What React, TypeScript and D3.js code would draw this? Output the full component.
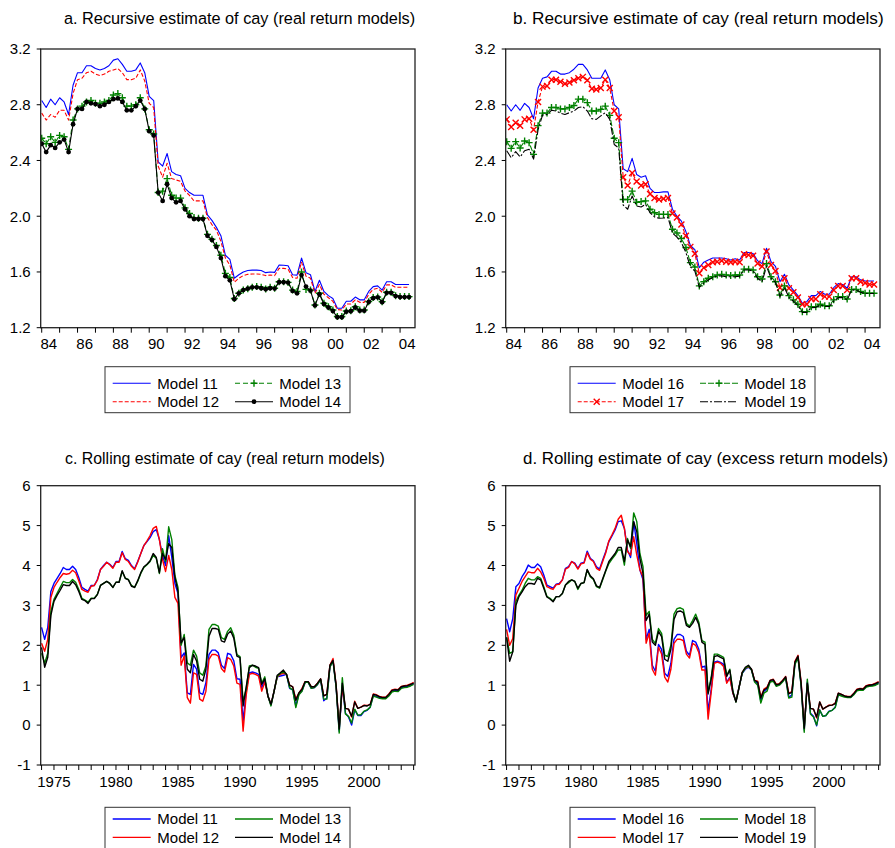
import React from 'react';
import * as d3 from 'd3';

const FONT = '"Liberation Sans", Arial, Helvetica, sans-serif';

// Quarterly samples: recursive estimates start 1984Q1, rolling estimates start 1974Q1
const RECURSIVE_START = 1984;
const ROLLING_START = 1974;

// a. Recursive estimate of cay (real return models)
const A_MODEL_11 = [2.83,2.78,2.84,2.80,2.85,2.82,2.73,2.94,3.03,3.03,3.08,3.08,3.06,3.05,3.06,3.08,3.12,3.13,3.09,3.04,3.04,3.05,3.10,3.03,2.86,2.83,2.39,2.36,2.45,2.32,2.30,2.29,2.20,2.17,2.15,2.15,2.15,2.01,1.97,1.92,1.86,1.72,1.69,
  1.555,1.58,1.60,1.61,1.613,1.613,1.61,1.595,1.60,1.597,1.65,1.648,1.645,1.58,1.577,1.70,1.595,1.58,1.46,1.54,1.46,1.43,1.41,1.34,1.34,1.39,1.39,1.42,1.40,1.40,1.46,1.495,1.50,1.47,1.53,1.53,1.51,1.51,1.51,1.51];
const A_MODEL_12 = [2.74,2.69,2.73,2.71,2.76,2.76,2.69,2.88,2.98,2.99,3.03,3.04,3.02,3.01,3.02,3.04,3.05,3.06,3.03,2.98,2.98,2.99,3.05,2.97,2.81,2.78,2.36,2.28,2.38,2.27,2.26,2.25,2.18,2.15,2.11,2.11,2.11,1.99,1.94,1.90,1.82,1.70,1.65,
  1.526,1.555,1.574,1.583,1.585,1.585,1.583,1.574,1.578,1.574,1.626,1.626,1.62,1.56,1.555,1.67,1.57,1.555,1.447,1.51,1.44,1.415,1.39,1.33,1.327,1.37,1.37,1.40,1.382,1.382,1.44,1.475,1.483,1.454,1.507,1.507,1.49,1.49,1.49,1.49];
const A_MODEL_13 = [2.56,2.52,2.57,2.53,2.58,2.57,2.48,2.69,2.77,2.79,2.82,2.83,2.81,2.81,2.82,2.83,2.87,2.88,2.85,2.79,2.79,2.80,2.85,2.77,2.62,2.59,2.17,2.18,2.27,2.15,2.13,2.13,2.06,2.02,1.99,1.985,1.985,1.87,1.835,1.79,1.72,1.59,1.56,
  1.41,1.447,1.47,1.48,1.49,1.495,1.49,1.478,1.49,1.483,1.53,1.53,1.525,1.47,1.46,1.60,1.475,1.47,1.363,1.447,1.375,1.35,1.327,1.28,1.28,1.32,1.322,1.35,1.327,1.327,1.387,1.416,1.42,1.387,1.454,1.454,1.43,1.423,1.423,1.423];
const A_MODEL_14 = [2.52,2.46,2.51,2.49,2.53,2.55,2.46,2.66,2.77,2.77,2.82,2.81,2.805,2.79,2.80,2.82,2.84,2.845,2.82,2.76,2.76,2.79,2.83,2.77,2.61,2.58,2.17,2.11,2.23,2.13,2.10,2.11,2.05,2.00,1.98,1.98,1.98,1.86,1.83,1.78,1.70,1.57,1.54,
  1.405,1.447,1.47,1.48,1.49,1.49,1.483,1.476,1.483,1.481,1.526,1.526,1.524,1.464,1.447,1.578,1.495,1.466,1.36,1.44,1.37,1.345,1.32,1.275,1.275,1.315,1.318,1.345,1.322,1.322,1.385,1.412,1.418,1.383,1.45,1.45,1.427,1.42,1.42,1.42];

// b. Recursive estimate of cay (second model group)
const B_MODEL_16 = [2.80,2.755,2.80,2.76,2.81,2.78,2.70,2.92,2.99,3.00,3.04,3.04,3.02,3.02,3.03,3.055,3.09,3.09,3.05,2.99,2.99,2.99,3.05,2.98,2.80,2.77,2.34,2.32,2.415,2.30,2.28,2.29,2.20,2.17,2.17,2.175,2.175,2.05,2.00,1.965,1.89,1.79,1.76,
  1.63,1.67,1.686,1.70,1.70,1.70,1.695,1.686,1.695,1.686,1.74,1.74,1.733,1.68,1.66,1.77,1.674,1.64,1.53,1.583,1.507,1.47,1.43,1.375,1.387,1.43,1.43,1.46,1.44,1.44,1.487,1.516,1.51,1.483,1.566,1.566,1.543,1.535,1.535,1.535];
const B_MODEL_17 = [2.695,2.64,2.67,2.65,2.695,2.70,2.62,2.82,2.93,2.935,2.98,2.98,2.965,2.95,2.96,2.975,2.99,3.00,2.975,2.915,2.91,2.92,2.98,2.92,2.755,2.71,2.28,2.22,2.31,2.25,2.22,2.23,2.16,2.13,2.12,2.125,2.13,2.02,1.99,1.94,1.86,1.78,1.73,
  1.59,1.63,1.65,1.67,1.674,1.68,1.674,1.67,1.674,1.67,1.727,1.722,1.717,1.66,1.64,1.746,1.65,1.607,1.487,1.555,1.483,1.454,1.416,1.368,1.368,1.406,1.406,1.44,1.423,1.423,1.47,1.50,1.50,1.47,1.555,1.555,1.53,1.52,1.51,1.51];
const B_MODEL_18 = [2.535,2.487,2.535,2.49,2.54,2.528,2.444,2.65,2.74,2.74,2.78,2.78,2.77,2.77,2.78,2.795,2.84,2.84,2.815,2.755,2.755,2.767,2.79,2.724,2.56,2.528,2.12,2.12,2.18,2.10,2.105,2.11,2.05,2.025,2.013,2.013,2.013,1.906,1.88,1.84,1.775,1.667,1.636,
  1.50,1.53,1.555,1.566,1.578,1.583,1.578,1.574,1.578,1.578,1.62,1.62,1.614,1.566,1.55,1.66,1.566,1.53,1.435,1.50,1.43,1.40,1.368,1.315,1.315,1.35,1.35,1.368,1.358,1.358,1.40,1.423,1.423,1.406,1.475,1.475,1.46,1.447,1.447,1.447];
const B_MODEL_19 = [2.47,2.42,2.463,2.425,2.47,2.48,2.41,2.62,2.726,2.73,2.76,2.755,2.74,2.73,2.743,2.755,2.78,2.786,2.755,2.70,2.695,2.72,2.743,2.695,2.515,2.49,2.08,2.05,2.145,2.073,2.066,2.085,2.025,1.995,1.985,1.987,1.99,1.88,1.85,1.81,1.74,1.636,1.607,
  1.49,1.52,1.543,1.56,1.57,1.572,1.566,1.566,1.566,1.57,1.614,1.614,1.607,1.555,1.53,1.64,1.555,1.526,1.423,1.487,1.418,1.39,1.358,1.31,1.31,1.344,1.346,1.363,1.352,1.352,1.39,1.416,1.416,1.40,1.47,1.47,1.454,1.445,1.445,1.445];

// c. Rolling estimate of cay (real return models)
const C_MODEL_11 = [2.45,2.15,2.45,3.35,3.55,3.68,3.80,3.95,3.90,3.90,
  3.98,3.90,3.70,3.45,3.40,3.36,3.50,3.50,3.65,3.90,
  4.00,4.08,4.03,3.95,4.10,4.10,4.35,4.17,4.13,4.00,
  3.92,4.10,4.30,4.50,4.60,4.70,4.85,4.90,4.65,4.25,
  4.00,4.75,4.20,3.55,3.30,1.69,1.81,0.81,0.77,1.52,
  1.40,0.81,0.77,1.06,1.77,1.88,1.88,1.81,1.50,1.42,
  1.80,1.77,1.61,1.16,1.15,0.10,0.85,1.31,1.33,1.31,
  1.27,0.94,1.13,0.73,0.50,0.85,1.21,1.23,1.25,1.27,
  0.92,0.88,0.48,0.78,0.86,1.07,1.07,0.92,0.94,1.02,
  1.14,0.61,0.68,1.46,1.62,0.95,-0.15,1.00,0.30,0.20,
  0.00,0.38,0.24,0.24,0.34,0.37,0.45,0.75,0.72,0.69,
  0.68,0.68,0.75,0.85,0.87,0.86,0.94,0.96,0.97,1.00,
  1.04];
const C_MODEL_12 = [2.05,1.85,2.15,3.20,3.45,3.58,3.70,3.80,3.78,3.80,
  3.88,3.82,3.62,3.40,3.36,3.33,3.48,3.50,3.63,3.90,
  3.98,4.08,4.02,3.93,4.08,4.08,4.32,4.15,4.10,3.98,
  3.90,4.08,4.30,4.50,4.62,4.75,4.93,4.98,4.65,4.15,
  3.85,4.25,3.90,3.20,3.05,1.50,1.73,0.69,0.55,1.31,
  1.27,0.65,0.60,0.85,1.65,1.77,1.77,1.73,1.42,1.33,
  1.69,1.65,1.48,1.05,1.02,-0.15,0.75,1.27,1.30,1.27,
  1.23,0.85,1.08,0.73,0.52,0.85,1.21,1.27,1.30,1.27,
  1.00,0.96,0.65,0.80,0.92,1.09,1.09,0.96,0.96,1.05,
  1.16,0.73,0.77,1.50,1.67,1.00,-0.05,0.95,0.42,0.40,
  0.20,0.60,0.42,0.45,0.50,0.49,0.52,0.78,0.76,0.72,
  0.70,0.70,0.78,0.88,0.90,0.89,0.97,0.99,1.00,1.03,
  1.07];
const C_MODEL_13 = [1.80,1.55,1.80,2.85,3.15,3.30,3.45,3.60,3.57,3.57,
  3.65,3.58,3.40,3.18,3.13,3.08,3.18,3.18,3.28,3.50,
  3.55,3.60,3.55,3.45,3.58,3.58,3.85,3.68,3.65,3.50,
  3.45,3.60,3.80,3.95,4.02,4.10,4.25,4.18,3.80,4.42,
  4.10,4.97,4.65,3.75,3.45,2.00,2.27,1.56,1.50,1.88,
  1.73,1.31,1.25,1.48,2.40,2.52,2.52,2.48,2.19,2.15,
  2.35,2.44,2.25,1.77,1.72,0.60,0.90,1.48,1.50,1.45,
  1.42,1.05,1.21,0.73,0.48,0.85,1.21,1.30,1.33,1.27,
  0.94,0.88,0.44,0.76,0.85,1.07,1.07,0.92,0.94,1.02,
  1.14,0.65,0.65,1.45,1.60,0.95,-0.20,1.19,0.28,0.22,
  0.05,0.40,0.25,0.26,0.35,0.38,0.45,0.73,0.70,0.67,
  0.66,0.66,0.73,0.83,0.85,0.84,0.92,0.94,0.95,0.98,
  1.02];
const C_MODEL_14 = [1.95,1.45,1.70,2.75,3.10,3.25,3.38,3.52,3.50,3.50,
  3.60,3.52,3.35,3.15,3.12,3.05,3.17,3.17,3.27,3.50,
  3.55,3.60,3.55,3.45,3.58,3.58,3.87,3.68,3.64,3.48,
  3.45,3.62,3.82,3.97,4.03,4.12,4.30,4.20,3.82,4.30,
  4.15,4.55,4.45,3.70,3.35,2.06,2.19,1.40,1.31,1.77,
  1.61,1.15,1.10,1.40,2.23,2.42,2.42,2.40,2.11,2.08,
  2.28,2.36,2.18,1.73,1.69,0.48,0.96,1.44,1.50,1.48,
  1.44,1.02,1.16,0.73,0.52,0.85,1.25,1.31,1.38,1.27,
  1.00,0.96,0.62,0.81,0.90,1.09,1.09,0.96,0.96,1.05,
  1.16,0.73,0.77,1.50,1.62,1.00,-0.10,1.05,0.42,0.40,
  0.22,0.58,0.42,0.45,0.49,0.48,0.52,0.77,0.75,0.71,
  0.69,0.69,0.77,0.87,0.89,0.88,0.96,0.98,0.99,1.02,
  1.05];

// d. Rolling estimate of cay (excess return models)
const D_MODEL_16 = [2.67,2.34,2.67,3.47,3.55,3.72,3.84,4.01,3.95,3.95,
  4.04,3.97,3.76,3.51,3.47,3.43,3.53,3.55,3.64,3.93,
  3.97,4.10,4.06,3.93,4.06,4.08,4.36,4.18,4.12,3.97,
  3.91,4.14,4.35,4.60,4.74,4.89,5.10,5.12,4.93,4.39,
  4.20,5.10,4.55,3.89,3.64,2.15,2.40,1.50,1.35,2.02,
  1.90,1.30,1.22,1.55,2.15,2.27,2.27,2.22,1.85,1.75,
  2.12,2.08,1.90,1.45,1.48,0.35,0.90,1.58,1.60,1.57,
  1.52,1.08,1.20,0.80,0.60,0.95,1.30,1.40,1.45,1.38,
  1.10,1.05,0.60,0.85,0.90,1.10,1.12,1.00,1.02,1.10,
  1.20,0.70,0.75,1.55,1.70,1.00,-0.12,1.08,0.30,0.22,
  -0.02,0.38,0.22,0.24,0.35,0.37,0.45,0.78,0.75,0.72,
  0.70,0.70,0.78,0.88,0.90,0.89,0.97,0.99,1.00,1.02,
  1.06];
const D_MODEL_17 = [2.40,2.00,2.17,3.26,3.43,3.60,3.72,3.84,3.82,3.82,
  3.93,3.84,3.68,3.47,3.43,3.40,3.52,3.53,3.64,3.91,
  3.95,4.10,4.04,3.91,4.04,4.06,4.32,4.16,4.10,3.93,
  3.88,4.10,4.32,4.62,4.77,4.93,5.16,5.26,4.93,4.35,
  4.26,4.72,4.26,3.89,3.72,2.05,2.30,1.40,1.25,1.95,
  1.78,1.20,1.08,1.40,2.05,2.15,2.15,2.12,1.78,1.68,
  2.05,2.00,1.82,1.38,1.38,0.15,0.82,1.55,1.58,1.55,
  1.47,1.05,1.18,0.80,0.60,0.95,1.32,1.42,1.47,1.40,
  1.12,1.10,0.70,0.90,0.95,1.12,1.15,1.02,1.04,1.12,
  1.22,0.80,0.84,1.60,1.75,1.08,-0.05,1.02,0.42,0.40,
  0.18,0.58,0.40,0.45,0.50,0.50,0.55,0.80,0.77,0.73,
  0.72,0.72,0.80,0.90,0.92,0.91,0.99,1.01,1.02,1.05,
  1.09];
const D_MODEL_18 = [2.20,1.80,1.84,3.09,3.26,3.38,3.55,3.68,3.64,3.64,
  3.72,3.68,3.47,3.23,3.18,3.11,3.22,3.22,3.30,3.51,
  3.57,3.64,3.60,3.40,3.55,3.57,3.89,3.72,3.65,3.47,
  3.43,3.64,3.86,4.05,4.16,4.26,4.39,4.39,4.01,4.68,
  4.43,5.32,5.10,4.30,3.97,2.75,2.85,2.15,2.05,2.42,
  2.30,1.75,1.72,2.00,2.78,2.92,2.94,2.90,2.55,2.48,
  2.62,2.78,2.58,2.12,2.08,0.82,1.20,1.78,1.78,1.74,
  1.70,1.25,1.40,0.85,0.58,0.95,1.30,1.42,1.48,1.38,
  1.08,1.00,0.55,0.80,0.85,1.08,1.10,0.97,1.00,1.08,
  1.18,0.68,0.70,1.52,1.68,0.98,-0.18,1.15,0.28,0.20,
  0.00,0.38,0.22,0.24,0.34,0.37,0.44,0.76,0.73,0.70,
  0.69,0.69,0.76,0.86,0.88,0.87,0.95,0.97,0.98,1.00,
  1.04];
const D_MODEL_19 = [2.20,1.60,1.84,3.00,3.22,3.34,3.47,3.55,3.55,3.53,
  3.68,3.64,3.43,3.21,3.16,3.09,3.22,3.22,3.30,3.51,
  3.60,3.64,3.60,3.43,3.55,3.57,3.90,3.74,3.67,3.49,
  3.45,3.67,3.88,4.10,4.20,4.30,4.45,4.45,4.10,4.64,
  4.47,5.10,4.85,4.18,3.80,2.62,2.78,2.08,2.00,2.35,
  2.22,1.65,1.60,1.90,2.65,2.84,2.86,2.82,2.50,2.45,
  2.55,2.70,2.52,2.08,2.02,0.78,1.15,1.72,1.74,1.70,
  1.66,1.22,1.38,0.83,0.58,0.95,1.32,1.45,1.50,1.40,
  1.12,1.08,0.68,0.88,0.93,1.12,1.14,1.01,1.03,1.11,
  1.21,0.78,0.82,1.58,1.73,1.05,-0.08,1.05,0.42,0.40,
  0.20,0.58,0.40,0.45,0.49,0.50,0.54,0.80,0.77,0.73,
  0.71,0.71,0.79,0.89,0.91,0.90,0.98,1.00,1.01,1.04,
  1.08];

// Axis ticks and labels
const RECURSIVE_Y_TICKS = [1.2, 1.6, 2.0, 2.4, 2.8, 3.2];
const ROLLING_Y_TICKS = [-1, 0, 1, 2, 3, 4, 5, 6];
const RECURSIVE_YEARS = d3.range(1984, 2005);
const RECURSIVE_YEAR_LABELS = ['84', '86', '88', '90', '92', '94', '96', '98', '00', '02', '04'];
const ROLLING_YEARS = d3.range(1974, 2005);
const ROLLING_YEAR_LABELS = ['1975', '1980', '1985', '1990', '1995', '2000'];

const TITLES = [
  'a. Recursive estimate of cay (real return models)',
  'b. Recursive estimate of cay (real return models)',
  'c. Rolling estimate of cay (real return models)',
  'd. Rolling estimate of cay (excess return models)',
];

type MarkerKind = 'plus' | 'cross' | 'dot' | null;
type Series = { name: string; values: number[]; color: string; dash: string | null; marker: MarkerKind; width: number };

const COL_SHIFT = 465;
const PLOT_LEFT = 40.7;
const PLOT_RIGHT = 415;

function Marker({ kind, x, y, color }: { kind: MarkerKind; x: number; y: number; color: string }) {
  if (kind === 'plus') {
    return <path d={`M${x - 3.5},${y}H${x + 3.5}M${x},${y - 3.5}V${y + 3.5}`} stroke={color} strokeWidth={1.4} fill="none" />;
  }
  if (kind === 'cross') {
    return <path d={`M${x - 3},${y - 3}L${x + 3},${y + 3}M${x - 3},${y + 3}L${x + 3},${y - 3}`} stroke={color} strokeWidth={1.4} fill="none" />;
  }
  if (kind === 'dot') {
    return <circle cx={x} cy={y} r={2.4} fill={color} />;
  }
  return null;
}

type PanelProps = {
  id: string;
  title: string;
  titleSize: number;
  col: number;
  titleX: number;
  titleY: number;
  top: number;
  bottom: number;
  yDomain: [number, number];
  yTicks: number[];
  yFormat: (v: number) => string;
  xDomain: [number, number];
  start: number;
  tickYears: number[];
  labels: string[];
  labelYears: number[];
  labelAnchor: 'start' | 'middle';
  labelDx: number;
  series: Series[];
};

function Panel(p: PanelProps) {
  const shift = p.col * COL_SHIFT;
  const left = PLOT_LEFT + shift;
  const right = PLOT_RIGHT + shift;
  const x = d3.scaleLinear().domain(p.xDomain).range([left, right]);
  const y = d3.scaleLinear().domain(p.yDomain).range([p.bottom, p.top]);
  const t = (i: number) => p.start + i / 4;

  return (
    <g>
      <text x={p.titleX} y={p.titleY} fontSize={p.titleSize} fontFamily={FONT} fill="#000">{p.title}</text>
      <defs>
        <clipPath id={`clip-${p.id}`}>
          <rect x={left} y={p.top - 6} width={right - left} height={p.bottom - p.top + 12} />
        </clipPath>
      </defs>
      <g clipPath={`url(#clip-${p.id})`}>
        {p.series.map((s) => {
          const line = d3.line<number>().x((_, i) => x(t(i))).y((v) => y(v));
          return (
            <g key={s.name}>
              <path d={line(s.values) || ''} fill="none" stroke={s.color} strokeWidth={s.width}
                strokeDasharray={s.dash || undefined} strokeLinejoin="round" />
              {s.marker && s.values.map((v, i) => (
                <Marker key={i} kind={s.marker} x={x(t(i))} y={y(v)} color={s.color} />
              ))}
            </g>
          );
        })}
      </g>
      {/* frame */}
      <rect x={left} y={p.top} width={right - left} height={p.bottom - p.top} fill="none" stroke="#222" strokeWidth={1.3} />
      {/* y axis */}
      {p.yTicks.map((v) => (
        <g key={v}>
          <line x1={left - 4} x2={left} y1={y(v)} y2={y(v)} stroke="#000" strokeWidth={1} />
          <text x={left - 10} y={y(v) + 5.3} textAnchor="end" fontSize={15} fontFamily={FONT} fill="#000">{p.yFormat(v)}</text>
        </g>
      ))}
      {/* x axis */}
      {p.tickYears.map((yr) => (
        <line key={yr} x1={x(yr)} x2={x(yr)} y1={p.bottom} y2={p.bottom + 5} stroke="#000" strokeWidth={1} />
      ))}
      {p.labels.map((lab, k) => (
        <text key={lab} x={x(p.labelYears[k]) + p.labelDx} y={p.bottom + 21.5} textAnchor={p.labelAnchor}
          fontSize={15} fontFamily={FONT} fill="#000">{lab}</text>
      ))}
    </g>
  );
}

function Legend({ col, top, height, row1, series }: { col: number; top: number; height: number; row1: number; series: Series[] }) {
  const shift = col * COL_SHIFT;
  const boxX = 105 + shift;
  const lineX = [112.7 + shift, 235 + shift];
  const textX = [157.3 + shift, 279.3 + shift];
  const rowGap = 18.4;
  return (
    <g>
      <rect x={boxX} y={top} width={245} height={height} fill="#fff" stroke="#333" strokeWidth={1} />
      {series.map((s, k) => {
        const c = Math.floor(k / 2);
        const r = k % 2;
        const cy = row1 + r * rowGap;
        const x1 = lineX[c];
        const x2 = x1 + 38;
        return (
          <g key={s.name}>
            <line x1={x1} x2={x2} y1={cy} y2={cy} stroke={s.color} strokeWidth={s.width}
              strokeDasharray={s.dash || undefined} />
            {s.marker && <Marker kind={s.marker} x={(x1 + x2) / 2} y={cy} color={s.color} />}
            <text x={textX[c]} y={cy + 5.3} fontSize={15} fontFamily={FONT} fill="#000">{s.name}</text>
          </g>
        );
      })}
    </g>
  );
}

export default function App() {
  const blue = '#0000ff';
  const red = '#ff0000';
  const green = '#008000';
  const black = '#000000';

  const seriesA: Series[] = [
    { name: 'Model 11', values: A_MODEL_11, color: blue, dash: null, marker: null, width: 1.1 },
    { name: 'Model 12', values: A_MODEL_12, color: red, dash: '4,2', marker: null, width: 1.1 },
    { name: 'Model 13', values: A_MODEL_13, color: green, dash: '5,3', marker: 'plus', width: 1.1 },
    { name: 'Model 14', values: A_MODEL_14, color: black, dash: null, marker: 'dot', width: 1.1 },
  ];
  const seriesB: Series[] = [
    { name: 'Model 16', values: B_MODEL_16, color: blue, dash: null, marker: null, width: 1.1 },
    { name: 'Model 17', values: B_MODEL_17, color: red, dash: '4,2', marker: 'cross', width: 1.1 },
    { name: 'Model 18', values: B_MODEL_18, color: green, dash: '6,2', marker: 'plus', width: 1.1 },
    { name: 'Model 19', values: B_MODEL_19, color: black, dash: '8,2,2,2', marker: null, width: 1.1 },
  ];
  const seriesC: Series[] = [
    { name: 'Model 11', values: C_MODEL_11, color: blue, dash: null, marker: null, width: 1.4 },
    { name: 'Model 12', values: C_MODEL_12, color: red, dash: null, marker: null, width: 1.4 },
    { name: 'Model 13', values: C_MODEL_13, color: green, dash: null, marker: null, width: 1.4 },
    { name: 'Model 14', values: C_MODEL_14, color: black, dash: null, marker: null, width: 1.4 },
  ];
  const seriesD: Series[] = [
    { name: 'Model 16', values: D_MODEL_16, color: blue, dash: null, marker: null, width: 1.4 },
    { name: 'Model 17', values: D_MODEL_17, color: red, dash: null, marker: null, width: 1.4 },
    { name: 'Model 18', values: D_MODEL_18, color: green, dash: null, marker: null, width: 1.4 },
    { name: 'Model 19', values: D_MODEL_19, color: black, dash: null, marker: null, width: 1.4 },
  ];

  const recursiveX: [number, number] = [1983.944, 2004.833];
  const rollingX: [number, number] = [1973.93, 2004.11];
  const fmt1 = d3.format('.1f');
  const fmt0 = (v: number) => String(v);
  const recLabelYears = RECURSIVE_YEARS.filter((yr) => yr % 2 === 0);
  const rollLabelYears = ROLLING_YEAR_LABELS.map(Number);

  const common = {
    recursive: {
      top: 49, bottom: 327.7, yDomain: [1.2, 3.2] as [number, number], yTicks: RECURSIVE_Y_TICKS, yFormat: fmt1,
      xDomain: recursiveX, start: RECURSIVE_START, tickYears: RECURSIVE_YEARS, labels: RECURSIVE_YEAR_LABELS,
      labelYears: recLabelYears, labelAnchor: 'start' as const, labelDx: -1.2, titleY: 24,
    },
    rolling: {
      top: 485.7, bottom: 765, yDomain: [-1, 6] as [number, number], yTicks: ROLLING_Y_TICKS, yFormat: fmt0,
      xDomain: rollingX, start: ROLLING_START, tickYears: ROLLING_YEARS, labels: ROLLING_YEAR_LABELS,
      labelYears: rollLabelYears, labelAnchor: 'middle' as const, labelDx: 0, titleY: 464,
    },
  };

  return (
    <svg width={895} height={848} style={{ position: 'absolute', left: 0, top: 0, background: '#fff' }}>
      <rect x={0} y={0} width={895} height={848} fill="#fff" />
      <Panel id="a" title={TITLES[0]} titleSize={16.3} col={0} titleX={64} {...common.recursive} series={seriesA} />
      <Panel id="b" title={TITLES[1]} titleSize={17.2} col={1} titleX={513} {...common.recursive} series={seriesB} />
      <Panel id="c" title={TITLES[2]} titleSize={15.9} col={0} titleX={65} {...common.rolling} series={seriesC} />
      <Panel id="d" title={TITLES[3]} titleSize={16.9} col={1} titleX={523} {...common.rolling} series={seriesD} />
      <Legend col={0} top={366.7} height={46} row1={383.3} series={seriesA} />
      <Legend col={1} top={366.7} height={46} row1={383.3} series={seriesB} />
      <Legend col={0} top={807.3} height={50} row1={819} series={seriesC} />
      <Legend col={1} top={807.3} height={50} row1={819} series={seriesD} />
    </svg>
  );
}
